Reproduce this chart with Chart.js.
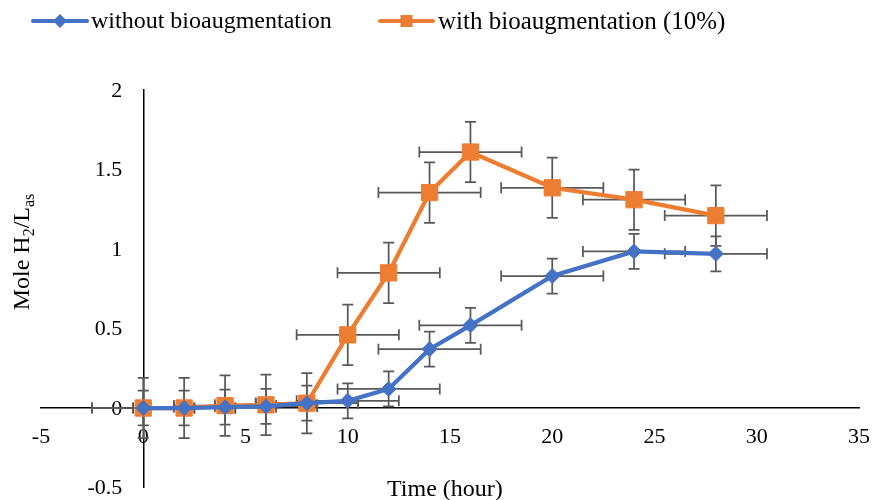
<!DOCTYPE html>
<html>
<head>
<meta charset="utf-8">
<script src="https://cdn.jsdelivr.net/npm/chart.js@4.4.1/dist/chart.umd.min.js"></script>
<style>
  html, body { margin: 0; padding: 0; background: #fff; }
  #wrap { width: 872px; height: 500px; position: relative; }
</style>
</head>
<body>
<div id="wrap"><canvas id="chart"></canvas></div>
<script>
// time in hours, same for both series
const timeHours = [0, 2, 4, 6, 8, 10, 12, 14, 16, 20, 24, 28];
const withoutBio = [0, 0, 0.005, 0.01, 0.03, 0.045, 0.12, 0.37, 0.52, 0.83, 0.985, 0.97];
const withBio = [0, 0, 0.015, 0.02, 0.03, 0.46, 0.85, 1.355, 1.61, 1.385, 1.31, 1.21];
// error bars
const withoutBioErr = [0.11, 0.11, 0.11, 0.11, 0.11, 0.11, 0.11, 0.11, 0.11, 0.11, 0.11, 0.11];
const withBioErr = [0.19, 0.19, 0.19, 0.19, 0.19, 0.19, 0.19, 0.19, 0.19, 0.19, 0.19, 0.19];
const timeErr = [2.5, 2.5, 2.5, 2.5, 2.5, 2.5, 2.5, 2.5, 2.5, 2.5, 2.5, 2.5];

const xTicks = [-5, 0, 5, 10, 15, 20, 25, 30, 35];
const yTicks = [-0.5, 0, 0.5, 1, 1.5, 2];

const BLUE = "#4472C4";
const ORANGE = "#ED7D31";
const FONT = "'Liberation Serif', 'Times New Roman', serif";

const toPoints = (ys) => timeHours.map((t, i) => ({ x: t, y: ys[i] }));

// no layout space for the crossing axes
const noSpace = (s) => {
  if (s.isHorizontal()) s.height = 0; else s.width = 0;
  s.paddingLeft = s.paddingRight = s.paddingTop = s.paddingBottom = 0;
};

// y tick labels (padding is ignored for an axis placed at x=0) + error bars
const errorBars = {
  id: "errorBars",
  beforeDatasetsDraw(chart) {
    const { ctx, scales: { x, y } } = chart;
    ctx.save();
    ctx.fillStyle = "#000";
    ctx.font = "22px " + FONT;
    ctx.textAlign = "right";
    ctx.textBaseline = "middle";
    y.ticks.forEach((t) => {
      ctx.fillText(String(t.value), x.getPixelForValue(0) - 21, y.getPixelForValue(t.value) + 1);
    });

    const cap = 5.5;
    ctx.strokeStyle = "#595959";
    ctx.lineWidth = 1.75;
    chart.data.datasets.forEach((ds) => {
      ds.data.forEach((p, j) => {
        const cx = x.getPixelForValue(p.x);
        const cy = y.getPixelForValue(p.y);
        const xl = x.getPixelForValue(p.x - ds.xErr[j]);
        const xr = x.getPixelForValue(p.x + ds.xErr[j]);
        const yt = y.getPixelForValue(p.y + ds.yErr[j]);
        const yb = y.getPixelForValue(p.y - ds.yErr[j]);
        ctx.beginPath();
        ctx.moveTo(xl, cy); ctx.lineTo(xr, cy);
        ctx.moveTo(xl, cy - cap); ctx.lineTo(xl, cy + cap);
        ctx.moveTo(xr, cy - cap); ctx.lineTo(xr, cy + cap);
        ctx.moveTo(cx, yt); ctx.lineTo(cx, yb);
        ctx.moveTo(cx - cap, yt); ctx.lineTo(cx + cap, yt);
        ctx.moveTo(cx - cap, yb); ctx.lineTo(cx + cap, yb);
        ctx.stroke();
      });
    });
    ctx.restore();
  },
};

// legend on top + axis titles (y title needs subscripts)
const extras = {
  id: "extras",
  afterDraw(chart) {
    const { ctx } = chart;
    ctx.save();
    // legend
    const items = [
      { color: BLUE, style: "rectRot", r: 7, x0: 33, x1: 87, tx: 91, size: 24, label: chart.data.datasets[0].label },
      { color: ORANGE, style: "rect", r: 8.5, x0: 380, x1: 433, tx: 438, size: 25, label: chart.data.datasets[1].label },
    ];
    const ly = 21;
    items.forEach((it) => {
      ctx.strokeStyle = it.color;
      ctx.lineWidth = 4;
      ctx.lineCap = "round";
      ctx.beginPath();
      ctx.moveTo(it.x0, ly);
      ctx.lineTo(it.x1, ly);
      ctx.stroke();
      ctx.fillStyle = it.color;
      Chart.helpers.drawPoint(ctx, { pointStyle: it.style, radius: it.r, rotation: 0, borderWidth: 0 }, (it.x0 + it.x1) / 2, ly);
      ctx.fillStyle = "#000";
      ctx.font = it.size + "px " + FONT;
      ctx.textBaseline = "middle";
      ctx.textAlign = "left";
      ctx.fillText(it.label, it.tx, ly + 1);
    });

    // x title
    ctx.font = "24px " + FONT;
    ctx.textAlign = "left";
    ctx.textBaseline = "alphabetic";
    ctx.fillText("Time (hour)", 387, 496);

    // y title: Mole H2/Las with subscripts
    const parts = [
      { t: "Mole H", sub: false },
      { t: "2", sub: true },
      { t: "/L", sub: false },
      { t: "as", sub: true },
    ];
    const big = "24px " + FONT;
    const small = "16px " + FONT;
    let total = 0;
    parts.forEach((p) => {
      ctx.font = p.sub ? small : big;
      p.w = ctx.measureText(p.t).width;
      total += p.w;
    });
    ctx.translate(29, 252);
    ctx.rotate(-Math.PI / 2);
    ctx.textAlign = "left";
    let px = -total / 2;
    parts.forEach((p) => {
      ctx.font = p.sub ? small : big;
      ctx.fillText(p.t, px, p.sub ? 5 : 0);
      px += p.w;
    });
    ctx.restore();
  },
};

const ctx = document.getElementById("chart").getContext("2d");
const chart = new Chart(ctx, {
  type: "line",
  data: {
    datasets: [
      {
        label: "without bioaugmentation",
        data: toPoints(withoutBio),
        xErr: timeErr,
        yErr: withoutBioErr,
        borderColor: BLUE,
        backgroundColor: BLUE,
        borderWidth: 4.25,
        pointStyle: "rectRot",
        pointRadius: 7.5,
        pointBorderWidth: 1,
        pointBackgroundColor: BLUE,
        pointBorderColor: BLUE,
        tension: 0,
        fill: false,
      },
      {
        label: "with bioaugmentation (10%)",
        data: toPoints(withBio),
        xErr: timeErr,
        yErr: withBioErr,
        borderColor: ORANGE,
        backgroundColor: ORANGE,
        borderWidth: 4.25,
        pointStyle: "rect",
        pointRadius: 11.5,
        pointBorderWidth: 1,
        pointBackgroundColor: ORANGE,
        pointBorderColor: ORANGE,
        tension: 0,
        fill: false,
      },
    ],
  },
  options: {
    responsive: true,
    maintainAspectRatio: false,
    animation: false,
    layout: { padding: { left: 41, right: 13, top: 90, bottom: 11 } },
    plugins: {
      legend: { display: false },
      tooltip: { enabled: false },
    },
    scales: {
      x: {
        type: "linear",
        min: -5,
        max: 35,
        position: { y: 0 },
        afterBuildTicks: (s) => { s.ticks = xTicks.map((v) => ({ value: v })); },
        afterFit: noSpace,
        grid: { display: false, drawTicks: false },
        border: { display: true, color: "#000", width: 1.5 },
        ticks: {
          color: "#000",
          font: { family: FONT, size: 22 },
          padding: 16,
          maxRotation: 0,
          autoSkip: false,
          callback: (v) => String(v),
        },
      },
      y: {
        type: "linear",
        min: -0.5,
        max: 2,
        position: { x: 0 },
        afterBuildTicks: (s) => { s.ticks = yTicks.map((v) => ({ value: v })); },
        afterFit: noSpace,
        grid: { display: false, drawTicks: false },
        border: { display: true, color: "#000", width: 1.5 },
        ticks: { display: false },
      },
    },
  },
  plugins: [errorBars, extras],
});
</script>
</body>
</html>
